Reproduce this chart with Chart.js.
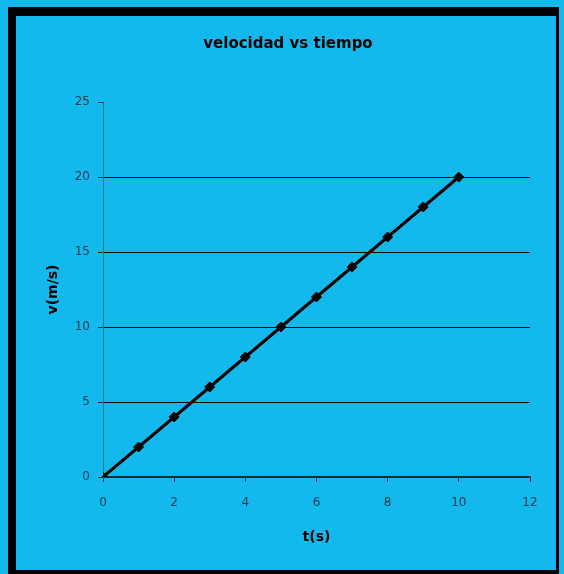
<!DOCTYPE html>
<html>
<head>
<meta charset="utf-8">
<script src="https://cdn.jsdelivr.net/npm/chart.js@4"></script>
<style>
  html, body { margin: 0; padding: 0; background: #13B9ED; }
  #wrap { position: relative; width: 564px; height: 574px; overflow: hidden; }
  #c { position: absolute; left: 0; top: 0; }
  #frame {
    position: absolute; left: 8px; top: 7px; width: 540px; height: 554px;
    border-left: 8px solid #000; border-top: 9px solid #000;
    border-right: 3px solid #000; border-bottom: 4px solid #000;
    pointer-events: none;
  }
</style>
</head>
<body>
<div id="wrap">
  <canvas id="c" width="564" height="574"></canvas>
  <div id="frame"></div>
</div>
<script>
// tiempo (s) y velocidad (m/s)
const tiempo = [0, 1, 2, 3, 4, 5, 6, 7, 8, 9, 10];
const velocidad = [0, 2, 4, 6, 8, 10, 12, 14, 16, 18, 20];
const xTicks = [0, 2, 4, 6, 8, 10, 12];
const yTicks = [0, 5, 10, 15, 20, 25];

const puntos = tiempo.map((t, i) => ({ x: t, y: velocidad[i] }));
const FAMILY = 'DejaVu Sans, Verdana, sans-serif';
const tickFont = { family: FAMILY, size: 12 };
const tickColor = '#0f3c4e';

new Chart(document.getElementById('c'), {
  type: 'scatter',
  data: {
    datasets: [{
      data: puntos,
      showLine: true,
      borderColor: '#000',
      borderWidth: 3,
      pointStyle: 'rectRot',
      pointRadius: 5,
      pointBackgroundColor: '#000',
      pointBorderColor: '#000',
      pointBorderWidth: 1,
      tension: 0
    }]
  },
  options: {
    responsive: false,
    animation: false,
    layout: { padding: { left: 12, top: 0, right: 0, bottom: 0 } },
    plugins: {
      legend: { display: false },
      tooltip: { enabled: false },
      title: {
        display: true,
        text: 'velocidad vs tiempo',
        color: '#000',
        font: { family: FAMILY, size: 15, weight: 'bold' },
        padding: { top: 35, bottom: 49 }
      }
    },
    scales: {
      x: {
        type: 'linear',
        min: 0, max: 12,
        afterBuildTicks: s => { s.ticks = xTicks.map(v => ({ value: v })); },
        afterFit: s => { s.height = 97; },
        border: { display: true, color: '#0b2f3d', width: 2 },
        grid: { display: true, drawOnChartArea: false, drawTicks: true, tickLength: 5, tickColor: '#0b2f3d', lineWidth: 1 },
        ticks: { color: tickColor, font: tickFont, padding: 14, maxRotation: 0 },
        title: {
          display: true, text: 't(s)', color: '#000',
          font: { family: FAMILY, size: 14, weight: 'bold' },
          padding: { top: 0, bottom: 28 }
        }
      },
      y: {
        type: 'linear',
        min: 0, max: 25,
        afterBuildTicks: s => { s.ticks = yTicks.map(v => ({ value: v })); },
        afterFit: s => { s.width = 91; },
        border: { display: true, color: '#1f7396', width: 1 },
        grid: {
          display: true,
          drawTicks: true,
          tickLength: 5,
          tickColor: '#0b2f3d',
          color: ctx => (ctx.tick && ctx.tick.value > 0 && ctx.tick.value < 25) ? '#000' : 'rgba(0,0,0,0)',
          lineWidth: 1
        },
        ticks: { color: tickColor, font: tickFont, padding: 8 },
        title: {
          display: true, text: 'v(m/s)', color: '#000',
          font: { family: FAMILY, size: 14, weight: 'bold' },
          padding: { top: 33, bottom: 0 }
        }
      },
      // empty margin on the right of the plot
      margen: {
        type: 'linear',
        position: 'right',
        display: true,
        afterFit: s => { s.width = 34; },
        border: { display: false },
        grid: { display: false },
        ticks: { display: false }
      }
    }
  }
});
</script>
</body>
</html>
